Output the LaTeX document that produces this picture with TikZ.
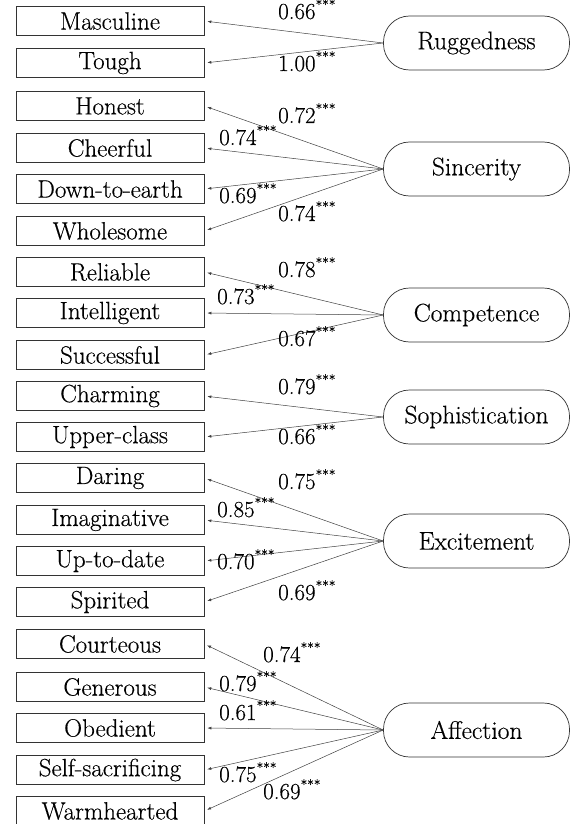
\documentclass[tikz,border=0pt]{standalone}
\usepackage{fontspec}
\newfontfamily\diafont{Latin Modern Roman}[FakeBold=0.35]
\usetikzlibrary{arrows.meta}
\newcommand{\sigstars}{\raisebox{0.42em}{\fontsize{13.5}{14}\selectfont ***}}
\begin{document}
\begin{tikzpicture}[x=1pt,y=-1pt,
  item/.style={draw=black!80,line width=0.7pt,minimum width=188pt,minimum height=29.5pt,inner sep=0pt,font=\diafont\fontsize{25}{26}\selectfont},
  factor/.style={draw=black!80,line width=0.7pt,rounded corners=26pt,minimum width=186pt,minimum height=54pt,inner sep=0pt,font=\diafont\fontsize{25.5}{26}\selectfont},
  load/.style={draw=black!75,line width=0.5pt,-{Latex[length=4pt,width=3pt]},shorten >=3pt},
  lab/.style={anchor=base west,inner sep=0pt,font=\diafont\fontsize{23}{24}\selectfont}]
\useasboundingbox (0,0) rectangle (571,824);
% items
\node[item] (m1) at (110,21) {Masculine};
\node[item] (m2) at (110,63) {Tough};
\node[item] (s1) at (110,106) {Honest};
\node[item] (s2) at (110,148) {Cheerful};
\node[item] (s3) at (110,189) {Down-to-earth};
\node[item] (s4) at (110,231) {Wholesome};
\node[item] (c1) at (110,272) {Reliable};
\node[item] (c2) at (110,313) {Intelligent};
\node[item] (c3) at (110,355) {Successful};
\node[item] (p1) at (110,396) {Charming};
\node[item] (p2) at (110,437) {Upper-class};
\node[item] (e1) at (110,478) {Daring};
\node[item] (e2) at (110,520) {Imaginative};
\node[item] (e3) at (110,561) {Up-to-date};
\node[item] (e4) at (110,602) {Spirited};
\node[item] (a1) at (110,644) {Courteous};
\node[item] (a2) at (110,687) {Generous};
\node[item] (a3) at (110,728) {Obedient};
\node[item] (a4) at (110,770) {Self-sacrificing};
\node[item] (a5) at (110,811) {Warmhearted};
% factors
\node[factor] (R) at (476.5,43) {Ruggedness};
\node[factor] (S) at (476.5,169) {Sincerity};
\node[factor] (C) at (476.5,315) {Competence};
\node[factor] (P) at (476.5,417) {Sophistication};
\node[factor] (E) at (476.5,541) {Excitement};
\node[factor] (A) at (476.5,730) {Affection};
% loadings
\foreach \f/\i in {R/m1,R/m2,S/s1,S/s2,S/s3,S/s4,C/c1,C/c2,C/c3,P/p1,P/p2,E/e1,E/e2,E/e3,E/e4,A/a1,A/a2,A/a3,A/a4,A/a5}
  \draw[load] (\f.west) -- (\i.east);
% labels
\node[lab] (lm1) at (278,19) {0.66\sigstars};
\node[lab] (lm2) at (278,71) {1.00\sigstars};
\node[lab] (ls1) at (278,123) {0.72\sigstars};
\node[lab] (ls2) at (219,145) {0.74\sigstars};
\node[lab] (ls3) at (219,203) {0.69\sigstars};
\node[lab] (ls4) at (278,221) {0.74\sigstars};
\node[lab] (lc1) at (278,277) {0.78\sigstars};
\node[lab] (lc2) at (217,304) {0.73\sigstars};
\node[lab] (lc3) at (278,346) {0.67\sigstars};
\node[lab] (lp1) at (278,394) {0.79\sigstars};
\node[lab] (lp2) at (278,444) {0.66\sigstars};
\node[lab] (le1) at (278,489) {0.75\sigstars};
\node[lab] (le2) at (217,517) {0.85\sigstars};
\node[lab] (le3) at (217,569) {0.70\sigstars};
\node[lab] (le4) at (278,600) {0.69\sigstars};
\node[lab] (la1) at (263,662) {0.74\sigstars};
\node[lab] (la2) at (219,691) {0.79\sigstars};
\node[lab] (la3) at (219,720) {0.61\sigstars};
\node[lab] (la4) at (219,782) {0.75\sigstars};
\node[lab] (la5) at (263,799) {0.69\sigstars};
\end{tikzpicture}
\end{document}
